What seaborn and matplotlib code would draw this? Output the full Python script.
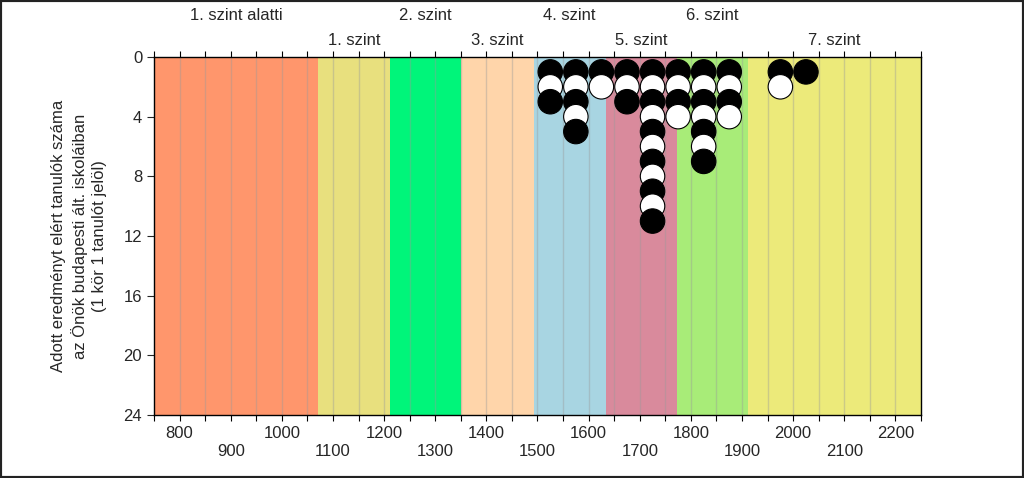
import numpy as np
import pandas as pd
import matplotlib
matplotlib.use("Agg")
import matplotlib.pyplot as plt
import seaborn as sns

# szintek (képességszintek) határai és nevei
level_names = ["1. szint alatti", "1. szint", "2. szint", "3. szint",
               "4. szint", "5. szint", "6. szint", "7. szint"]
level_edges = [750, 1071, 1211, 1351, 1493, 1633, 1773, 1912, 2250]
level_colors = ["#FF966C", "#E8E07E", "#00F57A", "#FFD5AA",
                "#A8D5E2", "#D98A9C", "#A8EC78", "#ECEA7A"]

# tanulók száma pontszám-sávonként (sáv közepe)
score_bins = [1525, 1575, 1625, 1675, 1725, 1775, 1825, 1875, 1975, 2025]
student_counts = [3, 5, 2, 3, 11, 4, 7, 4, 2, 1]

x_ticks = list(range(800, 2201, 100))
y_ticks = [0, 4, 8, 12, 16, 20, 24]

rows = []
for x, n in zip(score_bins, student_counts):
    for k in range(1, n + 1):
        rows.append({"pontszam": x, "tanulo": k,
                     "szin": "fekete" if k % 2 == 1 else "feher"})
dots = pd.DataFrame(rows).sort_values(["tanulo", "pontszam"])

sns.set_style("white")
plt.rcParams["font.family"] = ["Liberation Sans", "DejaVu Sans"]

fig = plt.figure(figsize=(10.24, 4.78), dpi=100)
ax = fig.add_axes([0.1504, 0.1318, 0.7490, 0.7490])

for i, name in enumerate(level_names):
    ax.axvspan(level_edges[i], level_edges[i + 1], color=level_colors[i],
               lw=0, zorder=0)

for gx in range(800, 2250, 50):
    ax.axvline(gx, color="#9a9a9a", lw=1.0, alpha=0.4, zorder=1)

sns.scatterplot(data=dots, x="pontszam", y="tanulo", hue="szin",
                palette={"fekete": "black", "feher": "white"},
                s=310, edgecolor="black", linewidth=0.8, legend=False,
                ax=ax, zorder=3)

ax.set_xlim(750, 2250)
ax.set_ylim(24, 0)
ax.set_yticks(y_ticks)
ax.set_xticks(x_ticks)
ax.set_xticklabels([str(t) if i % 2 == 0 else "\n" + str(t)
                    for i, t in enumerate(x_ticks)])
ax.set_xticks(range(750, 2251, 50), minor=True)
ax.tick_params(axis="x", which="both", top=True, bottom=True,
               direction="out", length=4, width=0.8, color="black",
               labelsize=12, pad=4)
ax.tick_params(axis="y", left=True, direction="out", length=5, width=0.8,
               labelsize=12)
ax.set_xlabel("")
ax.set_ylabel("Adott eredményt elért tanulók száma\n"
              "az Önök budapesti ált. iskoláiban\n"
              "(1 kör 1 tanulót jelöl)", fontsize=12, labelpad=12,
              linespacing=1.35)

for sp in ax.spines.values():
    sp.set_visible(True)
    sp.set_color("black")
    sp.set_linewidth(1.0)

trans = ax.get_xaxis_transform()
for i, name in enumerate(level_names):
    cx = (level_edges[i] + level_edges[i + 1]) / 2
    ypos = 1.117 if i % 2 == 0 else 1.045
    ax.text(cx, ypos, name, transform=trans, ha="center", va="center",
            fontsize=12, clip_on=False)

fig.patches.append(plt.Rectangle((0, 0), 1, 1, transform=fig.transFigure,
                                 fill=False, edgecolor="#222222", lw=3))

fig.savefig("out.png", dpi=100)
